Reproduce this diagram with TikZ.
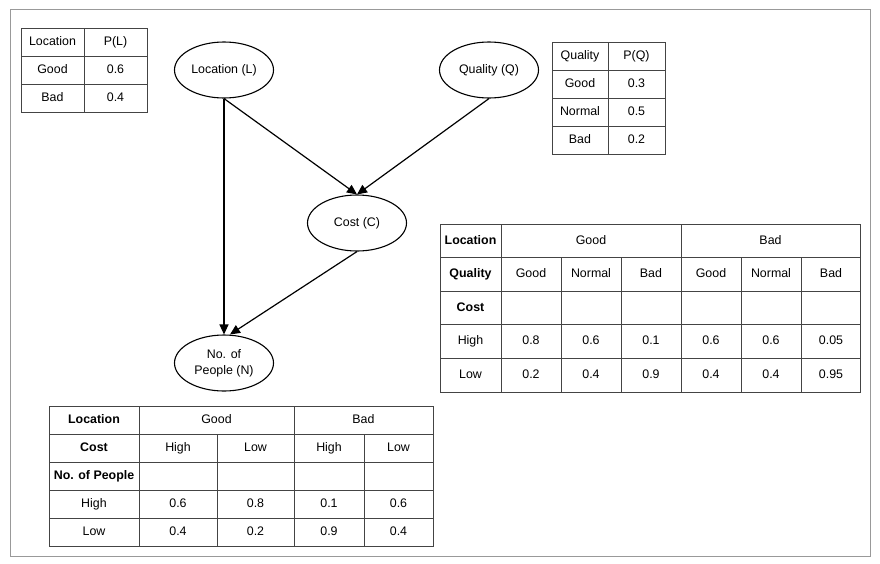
\documentclass[tikz,border=0pt]{standalone}
\usepackage{fontspec}
\setmainfont{Liberation Sans}
\usepackage{tikz}
\usetikzlibrary{shapes, arrows.meta}
\usetikzlibrary{positioning}
\usepackage{xcolor}
\definecolor{frame}{HTML}{999999}
\definecolor{tabline}{HTML}{444444}

\tikzset{
  var/.style={draw, ellipse, line width=1.1pt, minimum width=99pt, minimum height=56pt, inner sep=0pt, align=center},
  edge/.style={line width=1.2pt, -{Triangle[length=10pt, width=9pt]}},
  grid/.style={draw=tabline, line width=0.7pt},
  cell/.style={inner sep=0pt, text height=9pt, text depth=2.6pt},
  head/.style={cell, font=\fontsize{12.4}{16}\selectfont\bfseries}
}

\begin{document}
\begin{tikzpicture}[x=1pt, y=-1pt, every node/.style={font=\fontsize{12.4}{16}\selectfont}]
       \useasboundingbox (0,0) rectangle (880,563);
       \draw[frame, line width=0.8pt] (10.5,9.5) rectangle (870,556.5);

       % network
       \node[var] (L) at (224, 70)  {Location (L)};
       \node[var] (Q) at (489, 70)  {Quality (Q)};
       \node[var] (C) at (357, 223) {Cost (C)};
       \node[var] (N) at (224, 363) {No. of\\People (N)};

       \draw[edge] (L.south) -- (N.north);
       \draw[edge] (L.south) -- (C.north);
       \draw[edge] (Q.south) -- (C.north);
       \draw[edge] (C.south) -- ([xshift=6pt]N.north);

       % P(L)
       \draw[grid] (21,28) rectangle (147,112);
       \draw[grid] (84,28) -- (84,112);
       \foreach \y in {56,84} \draw[grid] (21,\y) -- (147,\y);
       \foreach \a/\b [count=\i] in {Location/P(L), Good/0.6, Bad/0.4} {
         \node[cell] (pl-\i-a) at (52.5, 14+28*\i) {\a};
         \node[cell] (pl-\i-b) at (115.5, 14+28*\i) {\b};
       }

       % P(Q)
       \draw[grid] (552,42) rectangle (665,154);
       \draw[grid] (608,42) -- (608,154);
       \foreach \y in {70,98,126} \draw[grid] (552,\y) -- (665,\y);
       \foreach \a/\b [count=\i] in {Quality/P(Q), Good/0.3, Normal/0.5, Bad/0.2} {
         \node[cell] (pq-\i-a) at (580, 28+28*\i) {\a};
         \node[cell] (pq-\i-b) at (636.5, 28+28*\i) {\b};
       }

       % P(C | L, Q)
       \draw[grid] (440,224) rectangle (860,392);
       \foreach \y in {257.6,291.2,324.8,358.4} \draw[grid] (440,\y) -- (860,\y);
       \foreach \x in {501,681} \draw[grid] (\x,224) -- (\x,392);
       \foreach \x in {561,621,741,801} \draw[grid] (\x,257.6) -- (\x,392);
       \node[head] (pc-loc) at (470.5,240.8) {Location};
       \node[cell] (pc-good) at (591,240.8) {Good};
       \node[cell] (pc-bad) at (770.5,240.8) {Bad};
       \node[head] (pc-qual) at (470.5,274.4) {Quality};
       \node[head] (pc-cost) at (470.5,308) {Cost};
       \foreach \t [count=\i] in {Good,Normal,Bad,Good,Normal,Bad}
         \node[cell] (pc-q\i) at (471+60*\i,274.4) {\t};
       \node[cell] (pc-high) at (470.5,341.6) {High};
       \foreach \t [count=\i] in {0.8,0.6,0.1,0.6,0.6,0.05}
         \node[cell] (pc-h\i) at (471+60*\i,341.6) {\t};
       \node[cell] (pc-low) at (470.5,375.2) {Low};
       \foreach \t [count=\i] in {0.2,0.4,0.9,0.4,0.4,0.95}
         \node[cell] (pc-l\i) at (471+60*\i,375.2) {\t};

       % P(N | L, C)
       \draw[grid] (49,406) rectangle (433,546);
       \foreach \y in {434,462,490,518} \draw[grid] (49,\y) -- (433,\y);
       \foreach \x in {139,294} \draw[grid] (\x,406) -- (\x,546);
       \foreach \x in {217,364} \draw[grid] (\x,434) -- (\x,546);
       \node[head] (pn-loc) at (94,420) {Location};
       \node[cell] (pn-good) at (216.5,420) {Good};
       \node[cell] (pn-bad) at (363.5,420) {Bad};
       \node[head] (pn-cost) at (94,448) {Cost};
       \node[head] (pn-ppl) at (94,476) {No. of People};
       \node[cell] (pn-high) at (94,504) {High};
       \node[cell] (pn-low) at (94,532) {Low};
       \foreach \x/\c/\h/\l [count=\i] in {178/High/0.6/0.4, 255.5/Low/0.8/0.2, 329/High/0.1/0.9, 398.5/Low/0.6/0.4} {
         \node[cell] (pn-c\i) at (\x,448) {\c};
         \node[cell] (pn-h\i) at (\x,504) {\h};
         \node[cell] (pn-l\i) at (\x,532) {\l};
       }
    \end{tikzpicture}
\end{document}
